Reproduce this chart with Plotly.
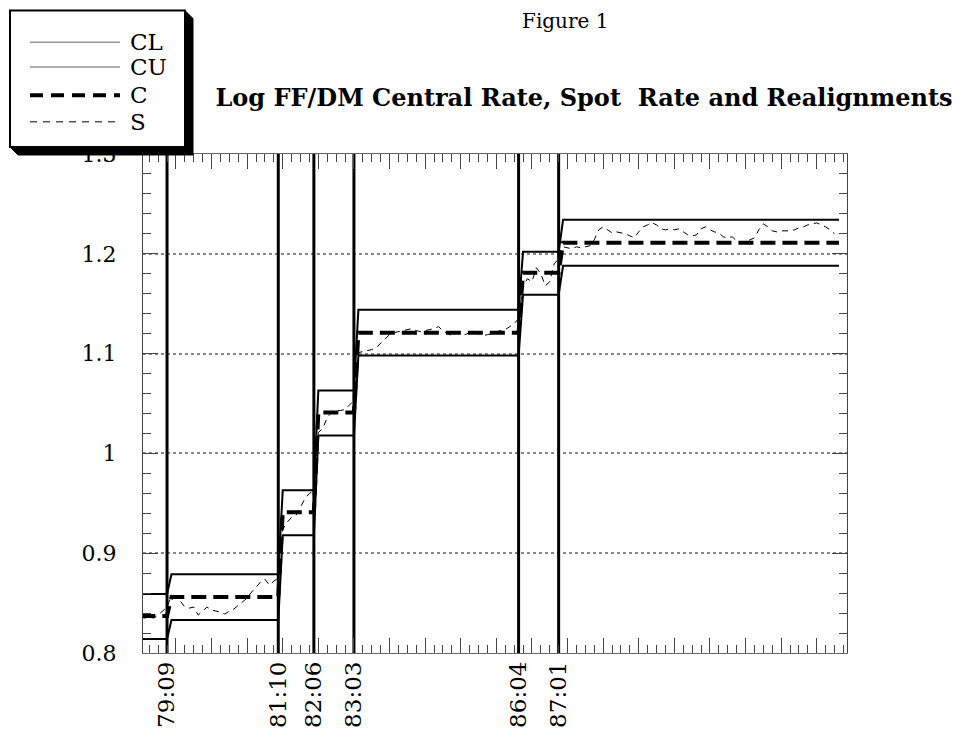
import plotly.graph_objects as go

# ---------------- data ----------------
# x is measured in months since 1979:01 (0 = Jan 1979)
realign_labels = ["79:09", "81:10", "82:06", "83:03", "86:04", "87:01"]
realign_month = [8, 33, 41, 50, 87, 96]
first_month = 2      # 79:03, start of the EMS
last_month = 159     # last month of the band series

# log FF/DM central rate and band limits for each parity regime
central = [0.837, 0.856, 0.941, 1.041, 1.121, 1.181, 1.211]
lower = [0.814, 0.833, 0.918, 1.018, 1.098, 1.159, 1.188]
upper = [0.859, 0.879, 0.963, 1.063, 1.144, 1.202, 1.234]

# log FF/DM spot rate, monthly, starting at month 2 (79:03)
spot_first_month = 2
spot = [
    0.836, 0.835, 0.836, 0.835, 0.838, 0.842, 0.846,                     # 2-8
    0.858, 0.855, 0.852, 0.846, 0.845, 0.846, 0.838, 0.842, 0.846,       # 9-17
    0.843, 0.842, 0.841, 0.839, 0.842, 0.844, 0.848, 0.851, 0.855,       # 18-26
    0.861, 0.866, 0.871, 0.874, 0.868, 0.872, 0.875,                     # 27-33
    0.924, 0.931, 0.936, 0.938, 0.946, 0.955, 0.960, 0.962,              # 34-41
    1.021, 1.025, 1.036, 1.041, 1.043, 1.043, 1.044, 1.049, 1.053,       # 42-50
    1.101, 1.102, 1.103, 1.104, 1.106, 1.110, 1.114, 1.119, 1.121,       # 51-59
    1.122, 1.123, 1.124, 1.125, 1.123, 1.122, 1.123, 1.124, 1.125,       # 60-68
    1.127, 1.123, 1.120, 1.118, 1.121, 1.122, 1.119, 1.121, 1.122,       # 69-77
    1.120, 1.118, 1.119, 1.120, 1.122, 1.123, 1.124, 1.127, 1.130,       # 78-86
    1.135,                                                               # 87
    1.168, 1.175, 1.172, 1.186, 1.180, 1.168, 1.172, 1.190, 1.195,       # 88-96
    1.207, 1.206, 1.205, 1.207, 1.206, 1.207, 1.208, 1.214, 1.224,       # 97-105
    1.227, 1.224, 1.221, 1.222, 1.221, 1.220, 1.218, 1.216, 1.222,       # 106-114
    1.227, 1.229, 1.231, 1.229, 1.225, 1.224, 1.225, 1.224, 1.225,       # 115-123
    1.222, 1.219, 1.218, 1.219, 1.225, 1.227, 1.224, 1.222, 1.221,       # 124-132
    1.217, 1.216, 1.217, 1.213, 1.210, 1.211, 1.214, 1.216, 1.224,       # 133-141
    1.230, 1.227, 1.223, 1.222, 1.223, 1.223, 1.223, 1.224, 1.226,       # 142-150
    1.227, 1.229, 1.230, 1.231, 1.229, 1.227, 1.224, 1.220,              # 151-158
]

legend_names = ["CL", "CU", "C", "S"]

# ---------------- build step series from the regimes ----------------
reg_x = []
for i in range(len(central)):
    s = first_month if i == 0 else realign_month[i - 1] + 1
    e = realign_month[i] if i < len(realign_month) else last_month
    reg_x += [s, e]


def steps(vals):
    out = []
    for v in vals:
        out += [v, v]
    return out


spot_x = list(range(spot_first_month, spot_first_month + len(spot)))

vx, vy = [], []
for m in realign_month:
    vx += [m, m, None]
    vy += [0.8, 1.3, None]

# ---------------- figure ----------------
OFF = 8                      # page body margin
W, H = 974 - OFF, 740 - OFF
L, T = 143 - OFF, 154 - OFF
R = W - (847 - OFF)
B = H - (655 - OFF)
PW, PH = W - L - R, H - T - B
SERIF = "DejaVu Serif"


def px_x(px):
    return (px - OFF - L) / PW


def px_y(py):
    return (H - B - (py - OFF)) / PH


fig = go.Figure()

fig.add_trace(go.Scatter(x=reg_x, y=steps(lower), mode="lines", name="CL",
                         line=dict(color="black", width=2), showlegend=False))
fig.add_trace(go.Scatter(x=reg_x, y=steps(upper), mode="lines", name="CU",
                         line=dict(color="black", width=2), showlegend=False))
fig.add_trace(go.Scatter(x=spot_x, y=spot, mode="lines", name="S",
                         line=dict(color="black", width=1, dash="6px,5px"),
                         showlegend=False))
fig.add_trace(go.Scatter(x=reg_x, y=steps(central), mode="lines", name="C",
                         line=dict(color="black", width=4, dash="15px,7px"),
                         showlegend=False))
fig.add_trace(go.Scatter(x=vx, y=vy, mode="lines", name="Realignments",
                         xaxis="x2", line=dict(color="black", width=3),
                         showlegend=False))

xr = [2.6, 160.8]
fig.update_layout(
    width=W, height=H, autosize=False,
    margin=dict(l=L, r=R, t=T, b=B, pad=0),
    paper_bgcolor="white", plot_bgcolor="white",
    font=dict(family=SERIF, color="black", size=22),
    showlegend=False,
    title=dict(text="Log FF/DM Central Rate, Spot\u00a0 Rate and Realignments",
               font=dict(family=SERIF, size=24, color="black", weight="bold"),
               xref="container", yref="container",
               x=(584 - OFF) / W, xanchor="center",
               y=1 - (98 - OFF) / H, yanchor="middle"),
    xaxis=dict(range=xr, showticklabels=False, showgrid=False, zeroline=False,
               showline=True, linecolor="#666", linewidth=1, mirror="ticks",
               tickmode="linear", tick0=10, dtick=8,
               ticks="inside", ticklen=15, tickcolor="#444", tickwidth=1,
               minor=dict(dtick=2, tick0=0, ticks="inside", ticklen=8,
                          tickcolor="#444", tickwidth=1, showgrid=False)),
    xaxis2=dict(matches="x", overlaying="x", anchor="y", side="bottom",
                range=xr, tickmode="array", tickvals=realign_month,
                ticktext=realign_labels, tickangle=-90, ticks="",
                ticklabelstandoff=3,
                showgrid=False, showline=False, zeroline=False,
                tickfont=dict(family=SERIF, size=23, color="black")),
    yaxis=dict(range=[0.8, 1.3], tickmode="linear", tick0=0.8, dtick=0.1,
               showgrid=True, gridcolor="#888", griddash="dot", gridwidth=1.5,
               zeroline=False, showline=True, linecolor="#444", linewidth=1,
               mirror="ticks", ticks="inside", ticklen=15, tickcolor="#444",
               ticklabelstandoff=21,
               tickfont=dict(family=SERIF, size=22, color="black"),
               minor=dict(dtick=0.02, ticks="inside", ticklen=8,
                          tickcolor="#444", showgrid=False)),
)

# "Figure 1" heading
fig.add_annotation(text="Figure 1", xref="paper", yref="paper",
                   x=px_x(565), y=px_y(20), showarrow=False,
                   font=dict(family=SERIF, size=20, color="black"),
                   xanchor="center", yanchor="middle")

# hand-drawn legend box with a black drop shadow
bx0, by0, bx1, by1, sh = 10, 10, 185, 147, 8
shadow_pts = [(bx1, by0), (bx1 + sh, by0 + sh), (bx1 + sh, by1 + sh),
              (bx0 + sh, by1 + sh), (bx0, by1)]
path = "M " + " L ".join(f"{px_x(a):.5f},{px_y(b):.5f}" for a, b in shadow_pts) + " Z"
fig.add_shape(type="path", path=path, xref="paper", yref="paper",
              fillcolor="black", line=dict(color="black", width=1), layer="above")
fig.add_shape(type="rect", xref="paper", yref="paper",
              x0=px_x(bx0), x1=px_x(bx1), y0=px_y(by0), y1=px_y(by1),
              fillcolor="white", line=dict(color="black", width=2), layer="above")

legend_rows = [41.7, 66.7, 95, 121.7]
legend_styles = [dict(color="#999", width=1.5),
                 dict(color="#999", width=1.5),
                 dict(color="black", width=4, dash="13px,8px"),
                 dict(color="black", width=1, dash="7px,6px")]
for name, yy, st in zip(legend_names, legend_rows, legend_styles):
    fig.add_shape(type="line", xref="paper", yref="paper",
                  x0=px_x(30), x1=px_x(120), y0=px_y(yy), y1=px_y(yy),
                  line=st, layer="above")
    fig.add_annotation(text=name, xref="paper", yref="paper",
                       x=px_x(128), y=px_y(yy), showarrow=False,
                       xanchor="left", yanchor="middle",
                       font=dict(family=SERIF, size=23, color="black"))

fig.write_html("out.html")
